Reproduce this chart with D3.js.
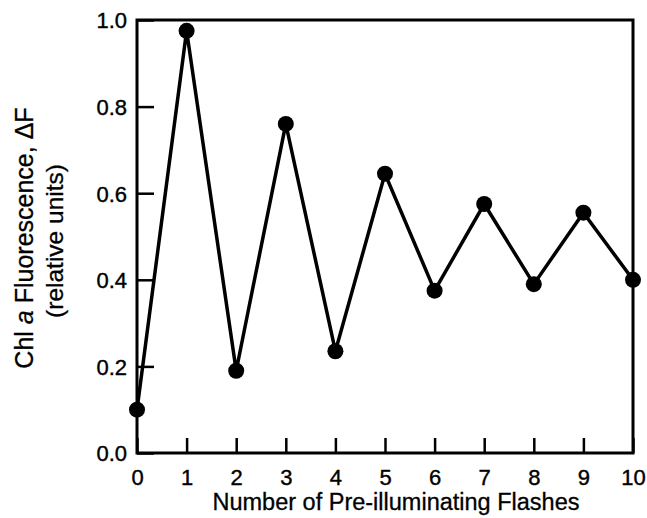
<!DOCTYPE html>
<html>
<head>
<meta charset="utf-8">
<script src="https://cdn.jsdelivr.net/npm/d3@7"></script>
<style>
  body { margin: 0; background: #fff; }
  text { font-family: "Liberation Sans", Arial, sans-serif; fill: #000; }
</style>
</head>
<body>
<div id="chart"></div>
<script>
var flashes = [0, 1, 2, 3, 4, 5, 6, 7, 8, 9, 10];
var fluorescence = [0.10, 0.975, 0.19, 0.76, 0.235, 0.645, 0.375, 0.575, 0.39, 0.555, 0.40];
var yTicks = [0.0, 0.2, 0.4, 0.6, 0.8, 1.0];

var svgWidth = 647;
var svgHeight = 518;
var margin = { top: 20, right: 14, bottom: 65, left: 137 };
var width = svgWidth - margin.left - margin.right;
var height = svgHeight - margin.top - margin.bottom;

var svg = d3.select('#chart')
  .append('svg')
  .attr('width', svgWidth)
  .attr('height', svgHeight);

var g = svg.append('g')
  .attr('transform', 'translate(' + margin.left + ',' + margin.top + ')');

var x = d3.scaleLinear().domain([0, 10]).range([0, width]);
var y = d3.scaleLinear().domain([0, 1]).range([height, 0]);

// frame
g.append('rect')
  .attr('width', width)
  .attr('height', height)
  .attr('fill', 'none')
  .attr('stroke', '#000')
  .attr('stroke-width', 3);

// inward ticks, no ticks on top/right
var xAxis = d3.axisBottom(x).tickValues(flashes).tickSizeInner(-15).tickSizeOuter(0).tickPadding(0)
  .tickFormat(d3.format('d'));
var yAxis = d3.axisLeft(y).tickValues(yTicks).tickSizeInner(-17).tickSizeOuter(0).tickPadding(0)
  .tickFormat(d3.format('.1f'));

var gx = g.append('g').attr('transform', 'translate(0,' + height + ')').call(xAxis);
var gy = g.append('g').call(yAxis);

[gx, gy].forEach(function(a) {
  a.select('.domain').remove();
  a.selectAll('line').attr('stroke', '#000').attr('stroke-width', 2.5);
  a.selectAll('text')
    .attr('font-size', null)
    .style('font-size', '22px')
    .style('font-family', '"Liberation Sans", Arial, sans-serif')
    .attr('stroke', '#000').attr('stroke-width', 0.4);
});
gx.selectAll('text').attr('y', 32).attr('dy', null);
gy.selectAll('text').attr('x', -10).attr('dy', '0.36em');

// line + markers
var line = d3.line()
  .x(function(d, i) { return x(flashes[i]); })
  .y(function(d) { return y(d); });

g.append('path')
  .datum(fluorescence)
  .attr('d', line)
  .attr('fill', 'none')
  .attr('stroke', '#000')
  .attr('stroke-width', 3.5);

g.selectAll('.pt')
  .data(fluorescence)
  .enter()
  .append('circle')
  .attr('class', 'pt')
  .attr('cx', function(d, i) { return x(flashes[i]); })
  .attr('cy', function(d) { return y(d); })
  .attr('r', 8)
  .attr('fill', '#000');

// axis titles
svg.append('text')
  .attr('x', 396)
  .attr('y', 510)
  .attr('text-anchor', 'middle')
  .attr('stroke', '#000').attr('stroke-width', 0.3)
  .style('font-size', '23.5px')
  .text('Number of Pre-illuminating Flashes');

var yt = svg.append('text')
  .attr('transform', 'translate(33,238) rotate(-90)')
  .attr('text-anchor', 'middle')
  .attr('stroke', '#000').attr('stroke-width', 0.3)
  .style('font-size', '25px');
yt.append('tspan').text('Chl ');
yt.append('tspan').style('font-style', 'italic').text('a');
yt.append('tspan').text(' Fluorescence, ΔF');

svg.append('text')
  .attr('transform', 'translate(63,241) rotate(-90)')
  .attr('text-anchor', 'middle')
  .attr('stroke', '#000').attr('stroke-width', 0.3)
  .style('font-size', '24.5px')
  .text('(relative units)');
</script>
</body>
</html>
